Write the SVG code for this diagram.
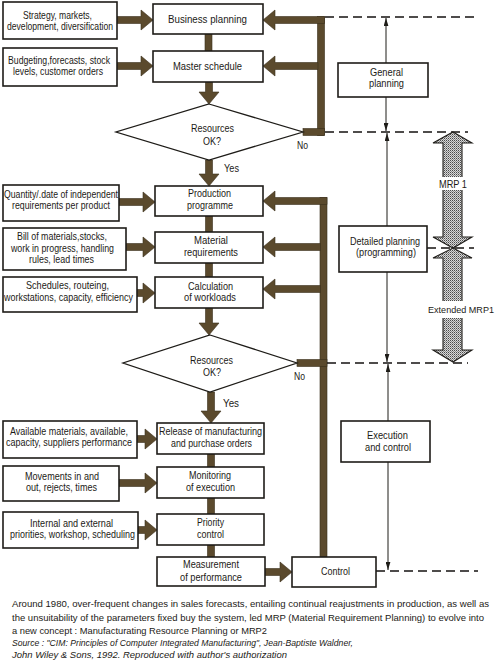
<svg xmlns="http://www.w3.org/2000/svg" width="500" height="668" viewBox="0 0 500 668">
<style>
.t{font-family:"Liberation Sans",Arial,sans-serif;font-size:11px;fill:#1c1a16}
.s{font-size:9.8px}
.f{font-family:"Liberation Sans",Arial,sans-serif;font-size:9.8px;fill:#1c1a16}
.i{font-style:italic}
.box{fill:#fff;stroke:#1e1c18;stroke-width:1.6}
.dia{fill:#fff;stroke:#1e1c18;stroke-width:1.3}
.br{fill:#5b4a2d;stroke:#3a2f1c;stroke-width:0.6}
.thin{stroke:#1e1c18;stroke-width:1;fill:none}
.dash{stroke:#141210;stroke-width:1.3;stroke-dasharray:9,5;fill:none}
.mrp{fill:url(#dots);stroke:#1e1c18;stroke-width:1.1}
</style>
<defs>
<pattern id="dots" width="2" height="2" patternUnits="userSpaceOnUse"><rect width="2" height="2" fill="#d8d8d8"/><rect width="1" height="1" fill="#4a4a4a"/><rect x="1" y="1" width="1" height="1" fill="#8a8a8a"/></pattern>
<marker id="ah" viewBox="0 0 10 6" refX="10" refY="3" markerWidth="8" markerHeight="5" markerUnits="userSpaceOnUse" orient="auto-start-reverse"><path d="M0,0 L10,3 L0,6 z" fill="#1e1c18"/></marker>
</defs>
<rect width="500" height="668" fill="#fff"/>

<g id="connectors">
<polygon class="br" points="117,16.5 141,16.5 141,10 153,20 141,30 141,23.5 117,23.5"/>
<polygon class="br" points="117,62.5 141,62.5 141,56 153,66 141,76 141,69.5 117,69.5"/>
<polygon class="br" points="119,198.5 143,198.5 143,192 155,202 143,212 143,205.5 119,205.5"/>
<polygon class="br" points="126,243.5 143,243.5 143,237 155,247 143,257 143,250.5 126,250.5"/>
<polygon class="br" points="137,289.5 143,289.5 143,283 155,293 143,303 143,296.5 137,296.5"/>
<polygon class="br" points="137,435.5 145,435.5 145,429 157,439 145,449 145,442.5 137,442.5"/>
<polygon class="br" points="119,479.5 145,479.5 145,473 157,483 145,493 145,486.5 119,486.5"/>
<polygon class="br" points="138,526.5 145,526.5 145,520 157,530 145,540 145,533.5 138,533.5"/>
<polygon class="br" points="265,568.5 280,568.5 280,562 292,572 280,582 280,575.5 265,575.5"/>
<rect class="br" x="205" y="34" width="7" height="17"/>
<polygon class="br" points="205.5,82 212.5,82 212.5,92 219,92 209,104 199,92 205.5,92"/>
<polygon class="br" points="205.5,160 212.5,160 212.5,174 219,174 209,186 199,174 205.5,174"/>
<rect class="br" x="205.5" y="216" width="7" height="16"/>
<rect class="br" x="205.5" y="263" width="7" height="14"/>
<polygon class="br" points="205.5,308 212.5,308 212.5,323 219,323 209,335 199,323 205.5,323"/>
<polygon class="br" points="207.5,392 214.5,392 214.5,411 221,411 211,423 201,411 207.5,411"/>
<rect class="br" x="207.5" y="454" width="7" height="13"/>
<rect class="br" x="207.5" y="498" width="7" height="16"/>
<rect class="br" x="207.5" y="545" width="7" height="12"/>
<rect class="br" x="317.5" y="16.5" width="7" height="119"/>
<rect class="br" x="303" y="128.5" width="21.5" height="7"/>
<polygon class="br" points="324.5,16.5 275,16.5 275,10 263,20 275,30 275,23.5 324.5,23.5"/>
<polygon class="br" points="318,62.5 275,62.5 275,56 263,66 275,76 275,69.5 318,69.5"/>
<rect class="br" x="320" y="197.5" width="7" height="359.5"/>
<rect class="br" x="297" y="359.5" width="30" height="7"/>
<polygon class="br" points="327,197.5 275,197.5 275,191 263,201 275,211 275,204.5 327,204.5"/>
<polygon class="br" points="320.5,243.5 275,243.5 275,237 263,247 275,257 275,250.5 320.5,250.5"/>
<polygon class="br" points="320.5,285.5 275,285.5 275,279 263,289 275,299 275,292.5 320.5,292.5"/>
<line class="dash" x1="325" y1="17" x2="477" y2="17"/>
<line class="dash" x1="325" y1="132" x2="468" y2="132"/>
<line class="dash" x1="427" y1="248" x2="474" y2="248"/>
<line class="dash" x1="327" y1="363" x2="468" y2="363"/>
<line class="dash" x1="376" y1="571" x2="478" y2="571"/>
<line class="thin" x1="386" y1="63" x2="386" y2="18" marker-end="url(#ah)"/>
<line class="thin" x1="386" y1="97" x2="386" y2="131" marker-end="url(#ah)"/>
<line class="thin" x1="387" y1="226" x2="387" y2="133" marker-end="url(#ah)"/>
<line class="thin" x1="387" y1="272" x2="387" y2="362" marker-end="url(#ah)"/>
<line class="thin" x1="388" y1="421" x2="388" y2="364" marker-end="url(#ah)"/>
<line class="thin" x1="388" y1="462" x2="388" y2="570" marker-end="url(#ah)"/>
<polygon class="mrp" points="453,132 472,143 462,143 462,237 472,237 453,248 433,237 443,237 443,143 433,143"/>
<polygon class="mrp" points="453,248 472,258 462,258 462,350 472,350 453,362 433,350 443,350 443,258 433,258"/>
<rect x="441" y="177" width="23" height="13" fill="#fff"/>
<rect x="441" y="301" width="23" height="17" fill="#fff"/>
</g>

<g id="n-strategy"><rect class="box" x="3" y="2" width="114" height="37"/>
<text class="t" x="23" y="19" textLength="69" lengthAdjust="spacingAndGlyphs">Strategy, markets,</text>
<text class="t" x="7" y="30" textLength="106" lengthAdjust="spacingAndGlyphs">development, diversification</text></g>
<g id="n-business"><rect class="box" x="153" y="4" width="110" height="30"/>
<text class="t" x="168" y="23" textLength="79" lengthAdjust="spacingAndGlyphs">Business   planning</text></g>
<g id="n-budget"><rect class="box" x="3" y="48" width="114" height="38"/>
<text class="t" x="8" y="64" textLength="102" lengthAdjust="spacingAndGlyphs">Budgeting,forecasts, stock</text>
<text class="t" x="13" y="75" textLength="90" lengthAdjust="spacingAndGlyphs">levels, customer orders</text></g>
<g id="n-master"><rect class="box" x="153" y="51" width="110" height="31"/>
<text class="t" x="173" y="70" textLength="69" lengthAdjust="spacingAndGlyphs">Master schedule</text></g>
<g id="n-res1"><polygon class="dia" points="209,104 303,132 209,160 116,132"/>
<text class="t" x="191" y="132" textLength="43" lengthAdjust="spacingAndGlyphs">Resources</text>
<text class="t" x="203" y="145" textLength="18" lengthAdjust="spacingAndGlyphs">OK?</text>
<text class="t" x="224" y="172" textLength="15" lengthAdjust="spacingAndGlyphs">Yes</text>
<text class="t" x="297" y="149" textLength="11" lengthAdjust="spacingAndGlyphs">No</text></g>
<g id="n-general"><rect class="box" x="338" y="63" width="90" height="34"/>
<text class="t" x="370" y="76" textLength="33" lengthAdjust="spacingAndGlyphs">General</text>
<text class="t" x="369" y="87" textLength="35" lengthAdjust="spacingAndGlyphs">planning</text></g>

<g id="n-quantity"><rect class="box" x="3" y="185" width="116" height="36"/>
<text class="t" x="4" y="198" textLength="114" lengthAdjust="spacingAndGlyphs">Quantity/.date of independent</text>
<text class="t" x="12" y="209" textLength="98" lengthAdjust="spacingAndGlyphs">requirements per product</text></g>
<g id="n-production"><rect class="box" x="155" y="186" width="108" height="30"/>
<text class="t" x="188" y="197" textLength="43" lengthAdjust="spacingAndGlyphs">Production</text>
<text class="t" x="187" y="208.5" textLength="46" lengthAdjust="spacingAndGlyphs">programme</text></g>
<g id="n-bill"><rect class="box" x="3" y="228" width="123" height="42"/>
<text class="t" x="17" y="240" textLength="90" lengthAdjust="spacingAndGlyphs">Bill of materials,stocks,</text>
<text class="t" x="11" y="252" textLength="103" lengthAdjust="spacingAndGlyphs">work in progress, handling</text>
<text class="t" x="29" y="263" textLength="65" lengthAdjust="spacingAndGlyphs">rules, lead times</text></g>
<g id="n-material"><rect class="box" x="155" y="232" width="108" height="31"/>
<text class="t" x="194" y="244" textLength="34" lengthAdjust="spacingAndGlyphs">Material</text>
<text class="t" x="184" y="256" textLength="54" lengthAdjust="spacingAndGlyphs">requirements</text></g>
<g id="n-schedules"><rect class="box" x="3" y="277" width="134" height="35"/>
<text class="t" x="26" y="289" textLength="83" lengthAdjust="spacingAndGlyphs">Schedules, routeing,</text>
<text class="t" x="4" y="301" textLength="129" lengthAdjust="spacingAndGlyphs">workstations, capacity, efficiency</text></g>
<g id="n-calc"><rect class="box" x="155" y="277" width="108" height="31"/>
<text class="t" x="188" y="290" textLength="45" lengthAdjust="spacingAndGlyphs">Calculation</text>
<text class="t" x="184" y="301" textLength="52" lengthAdjust="spacingAndGlyphs">of workloads</text></g>
<g id="n-res2"><polygon class="dia" points="210,335 297,363 210,392 123,363"/>
<text class="t" x="190" y="364" textLength="43" lengthAdjust="spacingAndGlyphs">Resources</text>
<text class="t" x="203" y="376" textLength="18" lengthAdjust="spacingAndGlyphs">OK?</text>
<text class="t" x="223" y="407" textLength="16" lengthAdjust="spacingAndGlyphs">Yes</text>
<text class="t" x="294" y="380" textLength="11" lengthAdjust="spacingAndGlyphs">No</text></g>
<g id="n-detailed"><rect class="box" x="339" y="226" width="88" height="46"/>
<text class="t" x="350" y="245" textLength="70" lengthAdjust="spacingAndGlyphs">Detailed planning</text>
<text class="t" x="356" y="256" textLength="60" lengthAdjust="spacingAndGlyphs">(programming)</text></g>
<g id="n-mrp-labels">
<text class="t" x="439" y="188" textLength="28" lengthAdjust="spacingAndGlyphs">MRP 1</text>
<text class="t s" x="428" y="313" textLength="66" lengthAdjust="spacingAndGlyphs">Extended MRP1</text></g>

<g id="n-available"><rect class="box" x="3" y="421" width="134" height="37"/>
<text class="t" x="10" y="435" textLength="118" lengthAdjust="spacingAndGlyphs">Available materials, available,</text>
<text class="t" x="6" y="446" textLength="126" lengthAdjust="spacingAndGlyphs">capacity, suppliers performance</text></g>
<g id="n-release"><rect class="box" x="157" y="423" width="107" height="31"/>
<text class="t" x="159" y="435" textLength="103" lengthAdjust="spacingAndGlyphs">Release of manufacturing</text>
<text class="t" x="171" y="447" textLength="81" lengthAdjust="spacingAndGlyphs">and purchase orders</text></g>
<g id="n-movements"><rect class="box" x="3" y="466" width="116" height="35"/>
<text class="t" x="25" y="480" textLength="74" lengthAdjust="spacingAndGlyphs">Movements in and</text>
<text class="t" x="26" y="491" textLength="71" lengthAdjust="spacingAndGlyphs">out, rejects, times</text></g>
<g id="n-monitoring"><rect class="box" x="157" y="467" width="107" height="31"/>
<text class="t" x="189" y="479" textLength="42" lengthAdjust="spacingAndGlyphs">Monitoring</text>
<text class="t" x="186" y="491" textLength="49" lengthAdjust="spacingAndGlyphs">of execution</text></g>
<g id="n-internal"><rect class="box" x="3" y="512" width="135" height="36"/>
<text class="t" x="30" y="527" textLength="83" lengthAdjust="spacingAndGlyphs">Internal and external</text>
<text class="t" x="10" y="538" textLength="125" lengthAdjust="spacingAndGlyphs">priorities, workshop, scheduling</text></g>
<g id="n-priority"><rect class="box" x="157" y="514" width="107" height="31"/>
<text class="t" x="197" y="526" textLength="27" lengthAdjust="spacingAndGlyphs">Priority</text>
<text class="t" x="197" y="538" textLength="27" lengthAdjust="spacingAndGlyphs">control</text></g>
<g id="n-measurement"><rect class="box" x="157" y="557" width="108" height="29"/>
<text class="t" x="183" y="568" textLength="56" lengthAdjust="spacingAndGlyphs">Measurement</text>
<text class="t" x="180" y="581" textLength="62" lengthAdjust="spacingAndGlyphs">of performance</text></g>
<g id="n-control"><rect class="box" x="292" y="557" width="84" height="30"/>
<text class="t" x="321" y="575" textLength="29" lengthAdjust="spacingAndGlyphs">Control</text></g>
<g id="n-execution"><rect class="box" x="341" y="421" width="89" height="41"/>
<text class="t" x="367" y="439" textLength="41" lengthAdjust="spacingAndGlyphs">Execution</text>
<text class="t" x="365" y="451" textLength="46" lengthAdjust="spacingAndGlyphs">and control</text></g>

<g id="caption">
<text class="f" x="12" y="607" textLength="477" lengthAdjust="spacingAndGlyphs">Around 1980, over-frequent changes in sales forecasts, entailing continual reajustments in production, as well as</text>
<text class="f" x="12" y="621" textLength="472" lengthAdjust="spacingAndGlyphs">the unsuitability of the parameters fixed buy the system, led MRP (Material Requirement Planning) to evolve into</text>
<text class="f" x="12" y="634" textLength="255" lengthAdjust="spacingAndGlyphs">a new concept : Manufacturating Resource Planning or MRP2</text>
<text class="f i" x="12" y="646" textLength="341" lengthAdjust="spacingAndGlyphs">Source : "CIM: Principles of Computer Integrated Manufacturing", Jean-Baptiste Waldner,</text>
<text class="f i" x="12" y="658" textLength="275" lengthAdjust="spacingAndGlyphs">John Wiley &amp; Sons, 1992. Reproduced with author's authorization</text>
</g>
</svg>
